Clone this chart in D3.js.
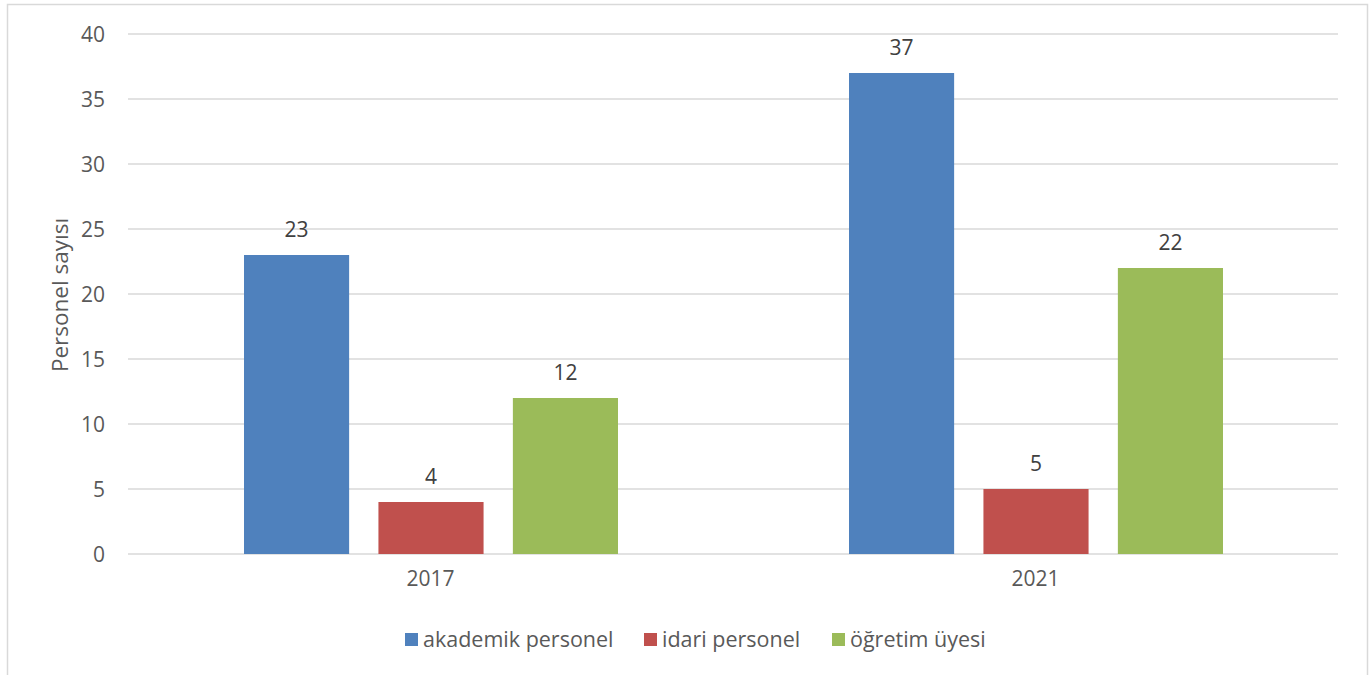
<!DOCTYPE html>
<html><head><meta charset="utf-8">
<script src="https://cdn.jsdelivr.net/npm/d3@7"></script>
<style>body{margin:0;background:#fff;} text{font-family:"Open Sans", sans-serif;}</style>
</head><body>
<svg id="c" width="1369" height="675"></svg>
<script>
const categories = ["2017", "2021"];
const seriesNames = ["akademik personel", "idari personel", "öğretim üyesi"];
const akademik = [23, 37];
const idari = [4, 5];
const ogretim = [12, 22];
const yTicks = [0, 5, 10, 15, 20, 25, 30, 35, 40];
const colors = ["#4f81bd", "#c0504d", "#9bbb59"];

(function () {
const FS = 21;
const svg = d3.select("#c");
svg.append("rect").attr("x", 7.5).attr("y", 4.5).attr("width", 1360).attr("height", 690)
  .attr("fill", "#fff").attr("stroke", "#d9d9d9").attr("stroke-width", 1.5);

const pLeft = 128, pRight = 1338, pTop = 34, pBottom = 554;
const y = d3.scaleLinear().domain([0, 40]).range([pBottom, pTop]);
const x0 = d3.scaleBand().domain(categories).range([pLeft, pRight]).paddingInner(0).paddingOuter(0);
const x1 = d3.scaleBand().domain(seriesNames).range([116, 490]).paddingInner(0.218).paddingOuter(0);

svg.append("g").selectAll("line").data(yTicks).join("line")
  .attr("x1", pLeft).attr("x2", pRight).attr("y1", d => y(d)).attr("y2", d => y(d))
  .attr("stroke", "#d9d9d9").attr("stroke-width", 1.5);

const yAxis = d3.axisLeft(y).tickValues(yTicks).tickSize(0).tickPadding(0);
const gy = svg.append("g").attr("transform", `translate(${pLeft - 23},0)`).call(yAxis);
gy.select(".domain").remove();
gy.selectAll("text").attr("font-size", FS).attr("fill", "#595959").attr("font-family", "'Open Sans', sans-serif").attr("dy", "0.35em");

const xAxis = d3.axisBottom(x0).tickSize(0).tickPadding(0);
const gx = svg.append("g").attr("transform", `translate(0,${pBottom + 17})`).call(xAxis);
gx.select(".domain").remove();
gx.selectAll("text").attr("font-size", FS).attr("fill", "#595959").attr("font-family", "'Open Sans', sans-serif").attr("dy", "0.71em");

const seriesVals = [akademik, idari, ogretim];
const data = [];
categories.forEach((c, i) => seriesNames.forEach((s, j) => data.push({c, s, v: seriesVals[j][i], j})));

svg.append("g").selectAll("rect").data(data).join("rect")
  .attr("x", d => x0(d.c) + x1(d.s)).attr("width", x1.bandwidth())
  .attr("y", d => y(d.v)).attr("height", d => y(0) - y(d.v))
  .attr("fill", d => colors[d.j]);

svg.append("g").selectAll("text").data(data).join("text")
  .attr("x", d => x0(d.c) + x1(d.s) + x1.bandwidth() / 2)
  .attr("y", d => y(d.v) - 18)
  .attr("text-anchor", "middle").attr("font-size", FS).attr("fill", "#404040")
  .text(d => d.v);

svg.append("text").attr("transform", `translate(68,295) rotate(-90)`)
  .attr("text-anchor", "middle").attr("font-size", 22.5).attr("fill", "#595959")
  .text("Personel sayısı");

const legX = [405, 644, 832];
const lg = svg.append("g").selectAll("g").data(seriesNames).join("g")
  .attr("transform", (d, i) => `translate(${legX[i]},633)`);
lg.append("rect").attr("width", 13).attr("height", 13).attr("fill", (d, i) => colors[i]);
lg.append("text").attr("x", 18).attr("y", 6.5).attr("dy", "0.35em").attr("font-size", 21.5)
  .attr("fill", "#595959").text(d => d);
})();
</script>
</body></html>
